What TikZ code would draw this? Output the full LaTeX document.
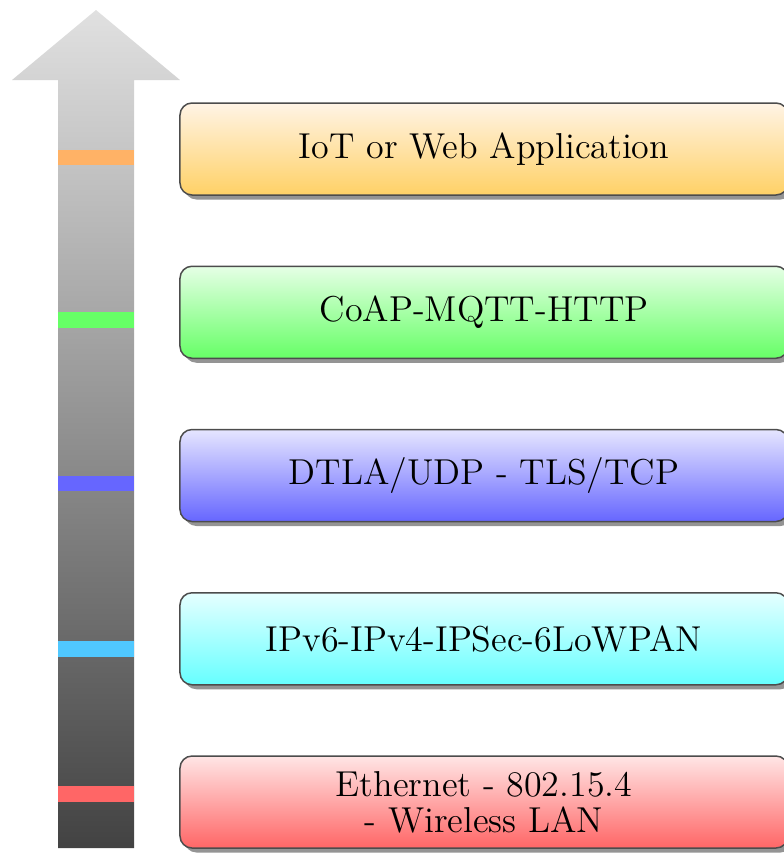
\documentclass[tikz,border=0pt]{standalone}
\usetikzlibrary{shadows}
\usetikzlibrary{positioning}

\definecolor{stripecyan}{RGB}{80,200,255}

\tikzset{
  layerbox/.style={draw=black!70, semithick, rounded corners=4.8pt,
    minimum width=243.2pt, minimum height=36.8pt,
    font=\Large, align=center,
    drop shadow={shadow xshift=1.8pt, shadow yshift=-1.8pt, fill=black!42, opacity=1}},
}

\begin{document}
\begin{tikzpicture}[x=0.4pt, y=-0.4pt]
      \useasboundingbox (0,0) rectangle (783,855);

      % stack arrow
      \shade[top color=black!12, bottom color=black!74]
        (58,848) -- (58,80) -- (12,80) -- (96,10) -- (180,80) -- (134,80) -- (134,848) -- cycle;

      \fill[orange!60] (58,150) rectangle (134,165);
      \fill[green!60] (58,312) rectangle (134,328);
      \fill[blue!60] (58,476) rectangle (134,491);
      \fill[stripecyan] (58,641) rectangle (134,657);
      \fill[red!60] (58,786) rectangle (134,802);

      % layers
      \node[layerbox, top color=yellow!10!orange!10, bottom color=orange!60!yellow!60] (App) at (484,149) {IoT or Web Application};
      \node[layerbox, top color=green!10, bottom color=green!60, below=27.9pt of App] (Proto) {CoAP-MQTT-HTTP};
      \node[layerbox, top color=blue!10, bottom color=blue!60, below=27.9pt of Proto] (Trans) {DTLA/UDP - TLS/TCP};
      \node[layerbox, top color=cyan!10, bottom color=cyan!60, below=27.9pt of Trans] (Net) {IPv6-IPv4-IPSec-6LoWPAN};
      \node[layerbox, inner ysep=1.5pt, top color=red!10, bottom color=red!60, below=27.9pt of Net] (Link) {Ethernet - 802.15.4\\[-3.5pt]- Wireless LAN};
    \end{tikzpicture}
\end{document}
